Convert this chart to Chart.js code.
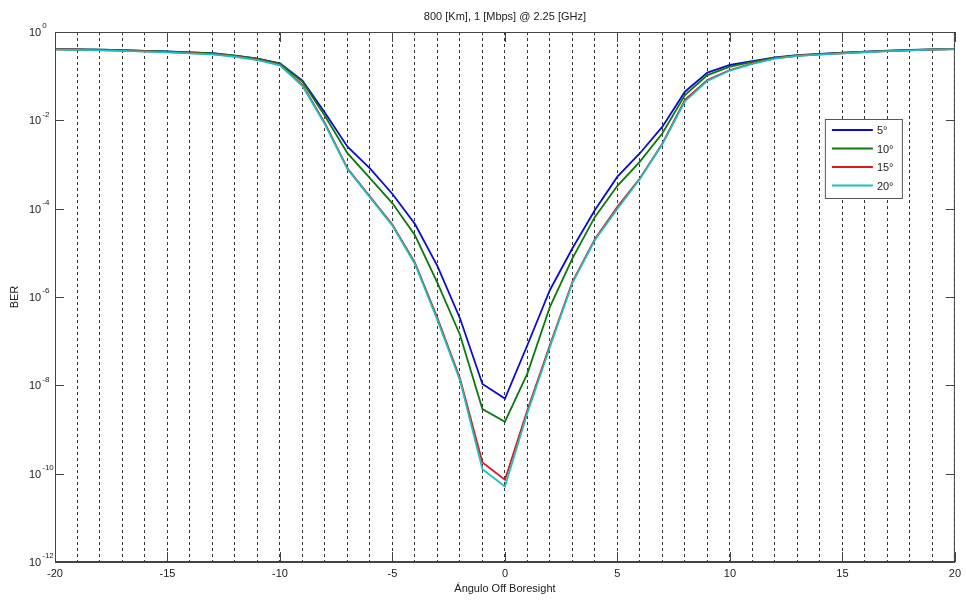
<!DOCTYPE html>
<html>
<head>
<meta charset="utf-8">
<script src="https://cdn.jsdelivr.net/npm/chart.js@4/dist/chart.umd.min.js"></script>
<style>
  body { margin: 0; background: #fff; }
  canvas { display: block; }
</style>
</head>
<body>
<canvas id="berChart" width="966" height="602"></canvas>
<script>
const titleText = '800 [Km], 1 [Mbps] @ 2.25 [GHz]';

const angles = [-20, -19, -18, -17, -16, -15, -14, -13, -12, -11, -10, -9, -8, -7, -6, -5, -4, -3, -2, -1, 0,
  1, 2, 3, 4, 5, 6, 7, 8, 9, 10, 11, 12, 13, 14, 15, 16, 17, 18, 19, 20];

const ber5 = [0.41, 0.405, 0.40, 0.39, 0.375, 0.362, 0.347, 0.33, 0.293, 0.251, 0.195,
  0.079, 0.0149, 2.53e-3, 8.2e-4, 2.15e-4, 4.5e-5, 5.0e-6, 3.3e-7, 1.07e-8, 5.0e-9,
  8.2e-8, 1.44e-6, 1.27e-5, 9.3e-5, 5.3e-4, 1.8e-3, 7.2e-3, 0.0445, 0.12, 0.179,
  0.22, 0.267, 0.30, 0.318, 0.34, 0.358, 0.377, 0.391, 0.406, 0.412];

const ber10 = [0.41, 0.405, 0.40, 0.39, 0.375, 0.36, 0.345, 0.328, 0.29, 0.248, 0.19,
  0.075, 0.0125, 1.8e-3, 4.9e-4, 1.32e-4, 2.5e-5, 2.1e-6, 1.4e-7, 2.9e-9, 1.5e-9,
  1.87e-8, 6.0e-7, 7.5e-6, 6.5e-5, 3.3e-4, 1.16e-3, 5.1e-3, 0.0375, 0.106, 0.164,
  0.21, 0.26, 0.295, 0.315, 0.337, 0.355, 0.375, 0.39, 0.405, 0.41];

const ber15 = [0.405, 0.40, 0.39, 0.38, 0.365, 0.35, 0.333, 0.315, 0.28, 0.238, 0.18,
  0.063, 0.0086, 8.2e-4, 1.87e-4, 4.3e-5, 6.0e-6, 3.35e-7, 1.45e-8, 1.8e-10, 7.3e-11,
  2.77e-9, 8.2e-8, 2.2e-6, 2.06e-5, 1.1e-4, 4.9e-4, 3.0e-3, 0.029, 0.082, 0.138,
  0.195, 0.254, 0.29, 0.31, 0.33, 0.35, 0.37, 0.385, 0.40, 0.41];

const ber20 = [0.40, 0.395, 0.385, 0.375, 0.36, 0.345, 0.328, 0.31, 0.275, 0.232, 0.175,
  0.06, 0.0081, 7.9e-4, 1.8e-4, 4.1e-5, 5.6e-6, 3.0e-7, 1.3e-8, 1.26e-10, 5.1e-11,
  2.4e-9, 7.4e-8, 2.1e-6, 1.95e-5, 1.0e-4, 4.7e-4, 2.9e-3, 0.027, 0.078, 0.134,
  0.19, 0.25, 0.288, 0.308, 0.328, 0.348, 0.368, 0.383, 0.398, 0.41];

const seriesLabels = ['5°', '10°', '15°', '20°'];
const seriesColors = ['#0c0cd2', '#0b7a0b', '#e01a1a', '#1cbfbf'];

const xTicks = [-20, -15, -10, -5, 0, 5, 10, 15, 20];
const yTicks = [1, 1e-2, 1e-4, 1e-6, 1e-8, 1e-10, 1e-12];
const yExps = ['0', '-2', '-4', '-6', '-8', '-10', '-12'];

const FONT = "'Liberation Sans', Arial, sans-serif";
Chart.defaults.font.family = FONT;
Chart.defaults.font.size = 11;
Chart.defaults.color = '#222';

const toPoints = arr => angles.map((a, i) => ({ x: a, y: arr[i] }));

// axes box, inward ticks, y labels with exponents, legend and title (MATLAB look)
const matlabFrame = {
  id: 'matlabFrame',
  afterDatasetsDraw(chart) {
    const { ctx, chartArea: a, scales: { x, y } } = chart;
    ctx.save();
    ctx.strokeStyle = '#444';
    ctx.lineWidth = 1;
    ctx.strokeRect(a.left + 0.5, a.top + 0.5, a.right - a.left - 1, a.bottom - a.top - 1);

    ctx.beginPath();
    xTicks.forEach(v => {
      const px = Math.round(x.getPixelForValue(v)) + 0.5;
      ctx.moveTo(px, a.bottom); ctx.lineTo(px, a.bottom - 10);
      ctx.moveTo(px, a.top); ctx.lineTo(px, a.top + 10);
    });
    yTicks.forEach(v => {
      const py = Math.round(y.getPixelForValue(v)) + 0.5;
      ctx.moveTo(a.left, py); ctx.lineTo(a.left + 9, py);
      ctx.moveTo(a.right, py); ctx.lineTo(a.right - 9, py);
    });
    ctx.stroke();

    // y tick labels: 10 with superscript exponent
    ctx.fillStyle = '#222';
    ctx.textAlign = 'left';
    ctx.textBaseline = 'middle';
    yTicks.forEach((v, i) => {
      const py = y.getPixelForValue(v);
      ctx.font = '11px ' + FONT;
      ctx.fillText('10', 29, py + 1);
      const w = ctx.measureText('10').width;
      ctx.font = '8px ' + FONT;
      ctx.fillText(yExps[i], 29 + w + 1, py - 6);
    });

    // legend
    const lx = a.right - 130, ly = a.top + 87;
    ctx.fillStyle = '#fff';
    ctx.fillRect(lx, ly, 77, 79);
    ctx.strokeStyle = '#555';
    ctx.strokeRect(lx + 0.5, ly + 0.5, 77, 79);
    ctx.font = '11px ' + FONT;
    chart.data.datasets.forEach((ds, i) => {
      const ry = ly + 11 + i * 18.5;
      ctx.strokeStyle = ds.borderColor;
      ctx.lineWidth = 1.8;
      ctx.beginPath();
      ctx.moveTo(lx + 7, ry); ctx.lineTo(lx + 48, ry);
      ctx.stroke();
      ctx.fillStyle = '#222';
      ctx.fillText(ds.label, lx + 52, ry + 1);
    });

    // title centered over the axes
    ctx.textAlign = 'center';
    ctx.font = '11px ' + FONT;
    ctx.fillText(titleText, (a.left + a.right) / 2, 17);
    ctx.restore();
  }
};

const series = [ber5, ber10, ber15, ber20];

new Chart(document.getElementById('berChart'), {
  type: 'line',
  data: {
    datasets: series.map((s, i) => ({
      label: seriesLabels[i],
      data: toPoints(s),
      borderColor: seriesColors[i],
      backgroundColor: seriesColors[i],
      borderWidth: 1.8,
      pointRadius: 0,
      tension: 0,
      fill: false,
      order: 4 - i
    }))
  },
  options: {
    responsive: false,
    animation: false,
    layout: { padding: { top: 32, right: 9, left: 0, bottom: 0 } },
    plugins: {
      legend: { display: false },
      title: { display: false },
      tooltip: { enabled: false }
    },
    scales: {
      x: {
        type: 'linear',
        min: -20,
        max: 20,
        afterFit: s => { s.height = 40; },
        ticks: {
          stepSize: 1,
          autoSkip: false,
          maxRotation: 0,
          padding: 5,
          color: '#222',
          callback: v => (v % 5 === 0 ? String(v) : '')
        },
        grid: {
          color: '#333',
          lineWidth: 1,
          drawTicks: false,
          tickLength: 0
        },
        border: { display: true, color: '#444', dash: [3, 3] },
        title: {
          display: true,
          text: 'Ángulo Off Boresight',
          color: '#222',
          font: { size: 11 },
          padding: { top: 0, bottom: 6 }
        }
      },
      y: {
        type: 'logarithmic',
        min: 1e-12,
        max: 1,
        afterFit: s => { s.width = 55; },
        afterBuildTicks: s => { s.ticks = yTicks.map(v => ({ value: v })); },
        ticks: { display: false },
        grid: { display: false },
        border: { display: true, color: '#444' },
        title: {
          display: true,
          text: 'BER',
          color: '#222',
          font: { size: 11 },
          padding: { top: 8, bottom: 0 }
        }
      }
    }
  },
  plugins: [matlabFrame]
});
</script>
</body>
</html>
